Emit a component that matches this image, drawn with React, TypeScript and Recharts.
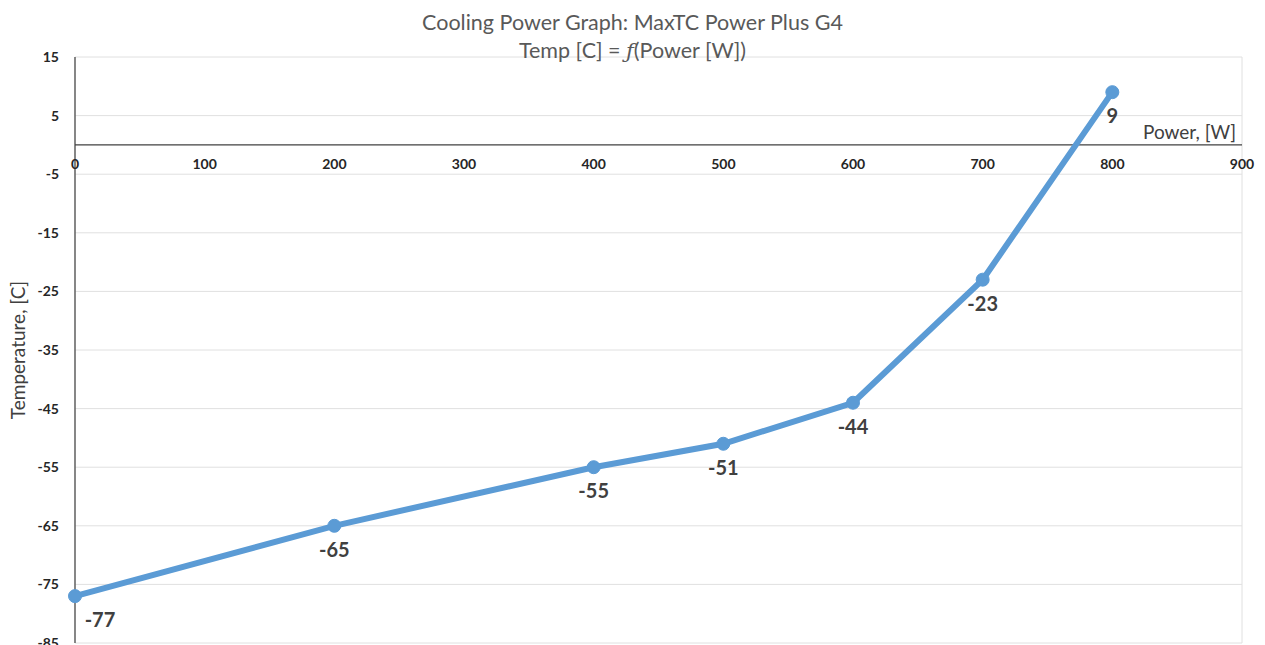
import React from 'react';
import { LineChart, Line, XAxis, YAxis, CartesianGrid, ReferenceLine, ReferenceDot, LabelList, Label } from 'recharts';

const powerW = [0, 200, 400, 500, 600, 700, 800];
const tempC = [-77, -65, -55, -51, -44, -23, 9];
const xTicks = [0, 100, 200, 300, 400, 500, 600, 700, 800, 900];
const yTicks = [-85, -75, -65, -55, -45, -35, -25, -15, -5, 5, 15];

const data = powerW.map((p, i) => ({ power: p, temp: tempC[i] }));

const FONT = 'Lato, "Open Sans", sans-serif';

const DataLabel = (props: any) => {
  const { x, y, value, index } = props;
  const dx = index === 0 ? 25 : 0;
  return (
    <text x={x + dx} y={y + 26} textAnchor="middle" dominantBaseline="middle" fill="#404040" fontSize={20} fontWeight={700} fontFamily={FONT}>
      {value}
    </text>
  );
};

export default function App() {
  return (
    <div style={{ position: 'absolute', left: 0, top: 0, width: 1265, height: 645, background: '#fff', overflow: 'hidden' }}>
      <div style={{ position: 'absolute', left: 0, top: 8, width: 1265, textAlign: 'center', fontFamily: FONT, fontSize: 21.5, color: '#595959', lineHeight: '28px', zIndex: 2, pointerEvents: 'none' }}>
        <div>Cooling Power Graph: MaxTC Power Plus G4</div>
        <div>Temp [C] = <i style={{ fontFamily: '"DejaVu Serif", serif', fontSize: 21 }}>ƒ</i>(Power [W])</div>
      </div>
      <LineChart width={1265} height={645} data={data} margin={{ top: 57, right: 23, bottom: 2, left: 0 }}>
        <CartesianGrid stroke="#e0e0e0" strokeWidth={1} />
        <XAxis dataKey="power" type="number" domain={[0, 900]} ticks={xTicks} tick={false} axisLine={false} tickLine={false} height={0} />
        <YAxis type="number" domain={[-85, 15]} ticks={yTicks} interval={0} width={75} tickLine={false} tickMargin={10}
          axisLine={{ stroke: '#404040', strokeWidth: 1.2 }}
          tick={{ fill: '#262626', fontSize: 14, fontWeight: 700, fontFamily: FONT }}>
          <Label value="Temperature, [C]" angle={-90} position="insideLeft" offset={18} style={{ fill: '#404040', fontSize: 19, fontFamily: FONT, textAnchor: 'middle' }} />
        </YAxis>
        <ReferenceLine y={0} stroke="#404040" strokeWidth={1.3}
          label={{ value: 'Power, [W]', position: 'insideBottomRight', offset: 6, fill: '#404040', fontSize: 19, fontFamily: FONT }} />
        {xTicks.map((t) => (
          <ReferenceDot key={t} x={t} y={0} r={0} fillOpacity={0} stroke="none"
            label={{ value: String(t), position: 'bottom', offset: 14, fill: '#262626', fontSize: 14, fontWeight: 700, fontFamily: FONT }} />
        ))}
        <Line type="linear" dataKey="temp" stroke="#5B9BD5" strokeWidth={6} isAnimationActive={false}
          dot={{ r: 6.5, fill: '#5B9BD5', stroke: '#5B9BD5', strokeWidth: 1 }} activeDot={false}>
          <LabelList dataKey="temp" content={<DataLabel />} />
        </Line>
      </LineChart>
    </div>
  );
}
